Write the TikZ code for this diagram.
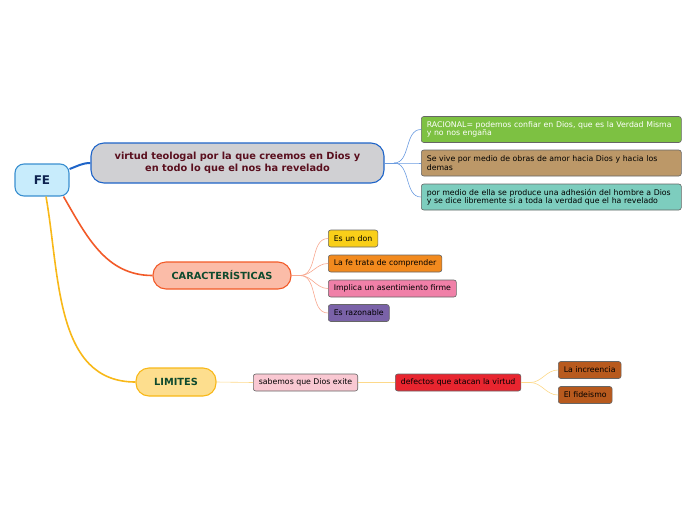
\documentclass[tikz,border=0pt]{standalone}
\usepackage{fontspec}
\setmainfont{DejaVu Sans}
\definecolor{feFill}{HTML}{C8ECFC}
\definecolor{feLine}{HTML}{3A8FD0}
\definecolor{feText}{HTML}{0E2350}
\definecolor{virFill}{HTML}{D0D0D3}
\definecolor{virLine}{HTML}{1E64C8}
\definecolor{virText}{HTML}{5A0F1E}
\definecolor{carFill}{HTML}{FBBCA8}
\definecolor{carLine}{HTML}{F25A28}
\definecolor{limFill}{HTML}{FDDE8E}
\definecolor{limLine}{HTML}{F8B818}
\definecolor{topText}{HTML}{0E4A2E}
\definecolor{greenLeaf}{HTML}{7DC142}
\definecolor{brownLeaf}{HTML}{BC9868}
\definecolor{tealLeaf}{HTML}{7DCDBE}
\definecolor{yellowLeaf}{HTML}{F9CF19}
\definecolor{orangeLeaf}{HTML}{F28A1E}
\definecolor{pinkLeaf}{HTML}{F080A8}
\definecolor{purpleLeaf}{HTML}{7A62A8}
\definecolor{roseLeaf}{HTML}{F9C8D2}
\definecolor{redLeaf}{HTML}{E8252F}
\definecolor{rustLeaf}{HTML}{B85A1E}
\definecolor{salmonLink}{HTML}{F8A890}
\definecolor{paleLink}{HTML}{FDD98A}
\definecolor{blueLink}{HTML}{6A9BE0}
\begin{document}
\begin{tikzpicture}[x=1pt, y=-1pt,
  every node/.style={font=\fontsize{7.8}{8.6}\selectfont},
  topic/.style={draw, line width=1.1pt, rounded corners=13pt, inner sep=0pt, align=center},
  leaf/.style={draw=black!60, line width=0.6pt, rounded corners=2.5pt, anchor=west,
    minimum height=17pt, inner xsep=5.5pt, inner ysep=0pt},
  wide/.style={leaf, minimum width=260pt, minimum height=26pt, text width=249pt, align=left}]
  \useasboundingbox (0,0) rectangle (696,520);
  % central idea
  \node[topic, fill=feFill, draw=feLine, text=feText, rounded corners=9pt,
    minimum width=54pt, minimum height=32pt, font=\fontsize{12}{14}\selectfont\bfseries] (fe) at (42,180) {FE};
  % main topics
  \node[topic, fill=virFill, draw=virLine, text=virText, minimum width=293pt, minimum height=40pt,
    font=\fontsize{9.8}{12}\selectfont\bfseries] (virtud) at (237.5,163)
    {virtud teologal por la que creemos en Dios y\\en todo lo que el nos ha revelado};
  \node[topic, fill=carFill, draw=carLine, text=topText, minimum width=138pt, minimum height=27pt,
    font=\fontsize{9.8}{12}\selectfont\bfseries] (carac) at (222,275.5) {CARACTERÍSTICAS};
  \node[topic, fill=limFill, draw=limLine, text=topText, minimum width=80pt, minimum height=28pt,
    font=\fontsize{9.8}{12}\selectfont\bfseries] (limites) at (176,382) {LIMITES};
  \draw[virLine, line width=2pt] (fe.east) ++(0,-11) to[out=20,in=180] (virtud.west);
  \draw[carLine, line width=1.6pt] (fe.south east) ++(-6,0) to[out=-60,in=180] (carac.west);
  \draw[limLine, line width=1.6pt] (fe.south) ++(4,0) to[out=-80,in=180] (limites.west);
  % virtud
  \node[wide, fill=greenLeaf, text=white] (racional) at (421,129.5)
    {RACIONAL= podemos confiar en Dios, que es la Verdad Misma\\y no nos engaña};
  \node[wide, fill=brownLeaf] (vive) at (421,163)
    {Se vive por medio de obras de amor hacia Dios y hacia los\\demas};
  \node[wide, fill=tealLeaf] (adhesion) at (421,197)
    {por medio de ella se produce una adhesión del hombre a Dios\\y se dice libremente si a toda la verdad que el ha revelado};
  \coordinate (hubV) at (394,163);
  \draw[blueLink, line width=0.6pt] (virtud.east) -- (hubV);
  \foreach \n in {racional, vive, adhesion}
    \draw[blueLink, line width=0.6pt] (hubV) to[out=0,in=180] (\n.west);
  % caracteristicas
  \node[leaf, fill=yellowLeaf] (don) at (328,238.5) {Es un don};
  \node[leaf, fill=orangeLeaf] (trata) at (328,263.5) {La fe trata de comprender};
  \node[leaf, fill=pinkLeaf] (implica) at (328,288.5) {Implica un asentimiento firme};
  \node[leaf, fill=purpleLeaf] (razonable) at (328,313) {Es razonable};
  \coordinate (hubC) at (300,275.5);
  \draw[salmonLink, line width=0.6pt] (carac.east) -- (hubC);
  \foreach \n in {don, trata, implica, razonable}
    \draw[salmonLink, line width=0.6pt] (hubC) to[out=0,in=180] (\n.west);
  % limites
  \node[leaf, fill=roseLeaf] (sabemos) at (253,382.5) {sabemos que Dios exite};
  \node[leaf, fill=redLeaf] (defectos) at (395,382.5) {defectos que atacan la virtud};
  \node[leaf, fill=rustLeaf] (increencia) at (558,370) {La increencia};
  \node[leaf, fill=rustLeaf] (fideismo) at (558,395) {El fideismo};
  \draw[paleLink, line width=0.6pt] (limites.east) -- (sabemos.west);
  \draw[paleLink, line width=0.6pt] (sabemos.east) -- (defectos.west);
  \coordinate (hubL) at (530,382.5);
  \draw[paleLink, line width=0.6pt] (defectos.east) -- (hubL);
  \foreach \n in {increencia, fideismo}
    \draw[paleLink, line width=0.6pt] (hubL) to[out=0,in=180] (\n.west);
\end{tikzpicture}
\end{document}
